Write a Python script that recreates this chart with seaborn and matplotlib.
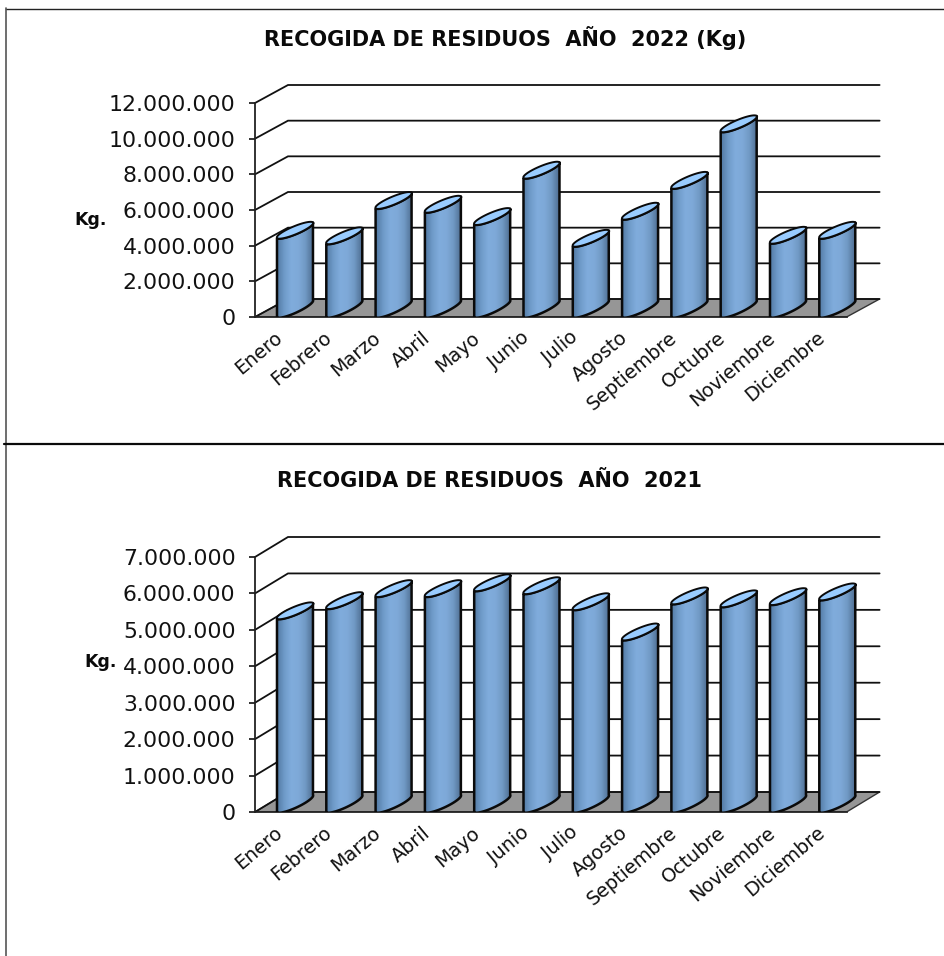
import numpy as np
import matplotlib
matplotlib.use("Agg")
import matplotlib.pyplot as plt
from matplotlib.colors import LinearSegmentedColormap
from matplotlib.lines import Line2D
from matplotlib.patches import PathPatch, Polygon
from matplotlib.path import Path
from matplotlib.transforms import ScaledTranslation
import seaborn as sns

months = ["Enero", "Febrero", "Marzo", "Abril", "Mayo", "Junio", "Julio", "Agosto",
          "Septiembre", "Octubre", "Noviembre", "Diciembre"]
values_2022 = [4430000, 4120000, 6100000, 5890000, 5200000, 7800000,
               3980000, 5500000, 7230000, 10400000, 4150000, 4430000]
values_2021 = [5310000, 5590000, 5920000, 5920000, 6080000, 6000000,
               5560000, 4730000, 5720000, 5640000, 5700000, 5830000]
title_2022 = "RECOGIDA DE RESIDUOS  AÑO  2022 (Kg)"
title_2021 = "RECOGIDA DE RESIDUOS  AÑO  2021"

W, H = 945, 956
sns.set_theme(style="white")
plt.rcParams["font.family"] = ["DejaVu Sans"]
fig = plt.figure(figsize=(W / 100, H / 100), dpi=100, facecolor="white")

body_cmap = LinearSegmentedColormap.from_list(
    "cyl", ["#527aa4", "#6f9bc9", "#80acdc", "#7ea9d8", "#7099c4", "#506f93"])


def fmt(v):
    return f"{int(v):,}".replace(",", ".")


def chart(values, ymax, step, title, y_front, y_top, title_xy, kg_xy, depth_px):
    x_front, x_end, pitch = 255, 880, 49.3
    ppu = (y_front - y_top) / ymax
    dx_wall = 33 / pitch
    dy_wall = depth_px / ppu
    ax = fig.add_axes([x_front / W, 1 - y_front / H, (x_end - x_front) / W,
                       (y_front - y_top + depth_px) / H])
    sns.barplot(x=months, y=values, ax=ax, width=0.73, color="#7ea9d8", saturation=1)
    xmin = -0.5
    xmax_front = 11.5
    ax.set_xlim(xmin, xmin + (x_end - x_front) / pitch)
    ax.set_ylim(0, ymax + dy_wall)
    ax.patch.set_alpha(0)
    ax.set_xlabel("")
    ax.set_ylabel("")

    ticks = np.arange(0, ymax + 1, step)
    ax.set_yticks(ticks)
    ax.set_yticklabels([fmt(t) for t in ticks], fontsize=15.8, color="#111111")
    ax.tick_params(axis="y", length=4, width=1.3, color="#222222", pad=10, left=True)
    ax.set_xticks(range(len(months)))
    ax.set_xticklabels(months, rotation=40, ha="right", rotation_mode="anchor",
                       fontsize=13.8, color="#111111")
    ax.tick_params(axis="x", length=0, pad=8)
    nudge = ScaledTranslation(-6 / 100, 0, fig.dpi_scale_trans)
    for lab in ax.get_xticklabels():
        lab.set_transform(lab.get_transform() + nudge)
    for s in ("top", "right"):
        ax.spines[s].set_visible(False)
    ax.spines["left"].set_bounds(0, ymax)
    ax.spines["bottom"].set_bounds(xmin, xmax_front)
    ax.spines["left"].set_linewidth(1.3)
    ax.spines["left"].set_color("#222222")
    ax.spines["bottom"].set_linewidth(1.3)
    ax.spines["bottom"].set_color("#222222")

    # floor
    ax.add_patch(Polygon([(xmin, 0), (xmax_front, 0), (xmax_front + dx_wall, dy_wall),
                          (xmin + dx_wall, dy_wall)], closed=True, facecolor="#969696",
                         edgecolor="#333333", lw=1.0, zorder=1))
    # walls
    for t in ticks:
        ax.plot([xmin, xmin + dx_wall, xmax_front + dx_wall], [t, t + dy_wall, t + dy_wall],
                color="#111111", lw=1.3, zorder=1.5, solid_joinstyle="miter", clip_on=False)

    # cylinders from the bars that seaborn drew
    shift = 0.311
    rise_top = 15.5 / ppu
    rise_bot = 17 / ppu
    minor_top = np.array([2.5 / pitch, -3.3 / ppu])
    minor_bot = np.array([2.5 / pitch, -3.5 / ppu])
    for bar in list(ax.patches):
        if not isinstance(bar, matplotlib.patches.Rectangle):
            continue
        x0 = bar.get_x() + shift
        w = bar.get_width()
        h = bar.get_height()
        bar.set_visible(False)
        ts = np.linspace(np.pi, 0, 40)

        def arc(base, rise, minor, tt):
            major = np.array([w / 2, rise / 2])
            c = np.array([x0 + w / 2, base + rise / 2])
            return np.array([c + np.cos(t) * major + np.sin(t) * minor for t in tt])

        top_low = arc(h, rise_top, minor_top, ts)
        bot_low = arc(0, rise_bot, minor_bot, ts)
        pts = np.vstack([top_low, bot_low[::-1], top_low[:1]])
        body = Path(pts)
        im = ax.imshow(np.linspace(0, 1, 64)[None, :], cmap=body_cmap, aspect="auto",
                       extent=(x0, x0 + w, -rise_bot, h + 2 * rise_top), zorder=3,
                       interpolation="bilinear")
        outline = PathPatch(body, facecolor="none", edgecolor="#0a0a0a", lw=1.8, zorder=3.2,
                            joinstyle="round")
        ax.add_patch(outline)
        im.set_clip_path(outline)
        top = arc(h, rise_top, minor_top, np.linspace(0, 2 * np.pi, 80))
        ax.add_patch(Polygon(top, closed=True, facecolor="#99ccff", edgecolor="#0a0a0a",
                             lw=1.4, zorder=3.4))
    ax.set_xlim(xmin, xmin + (x_end - x_front) / pitch)
    ax.set_ylim(0, ymax + dy_wall)

    fig.text(title_xy[0] / W, 1 - title_xy[1] / H, title, ha="center", va="center",
             fontsize=15, fontweight="bold", family="DejaVu Sans", color="#0a0a0a")
    fig.text(kg_xy[0] / W, 1 - kg_xy[1] / H, "Kg.", ha="center", va="center",
             fontsize=12.5, fontweight="bold", family="DejaVu Sans", color="#0a0a0a")
    return ax


chart(values_2022, 12000000, 2000000, title_2022, 317, 103, (505, 38), (91, 220), 18)
chart(values_2021, 7000000, 1000000, title_2021, 812, 557, (490, 481), (101, 662), 20)

# page frame
for xs, ys, c, lw in [((6, 945), (8.5, 8.5), "#222222", 1.0),
                      ((6, 6), (8, 956), "#555555", 1.2),
                      ((4, 945), (444, 444), "#0a0a0a", 1.6)]:
    fig.add_artist(Line2D([x / W for x in xs], [1 - y / H for y in ys], color=c, lw=lw))

fig.savefig("out.png", dpi=100)
